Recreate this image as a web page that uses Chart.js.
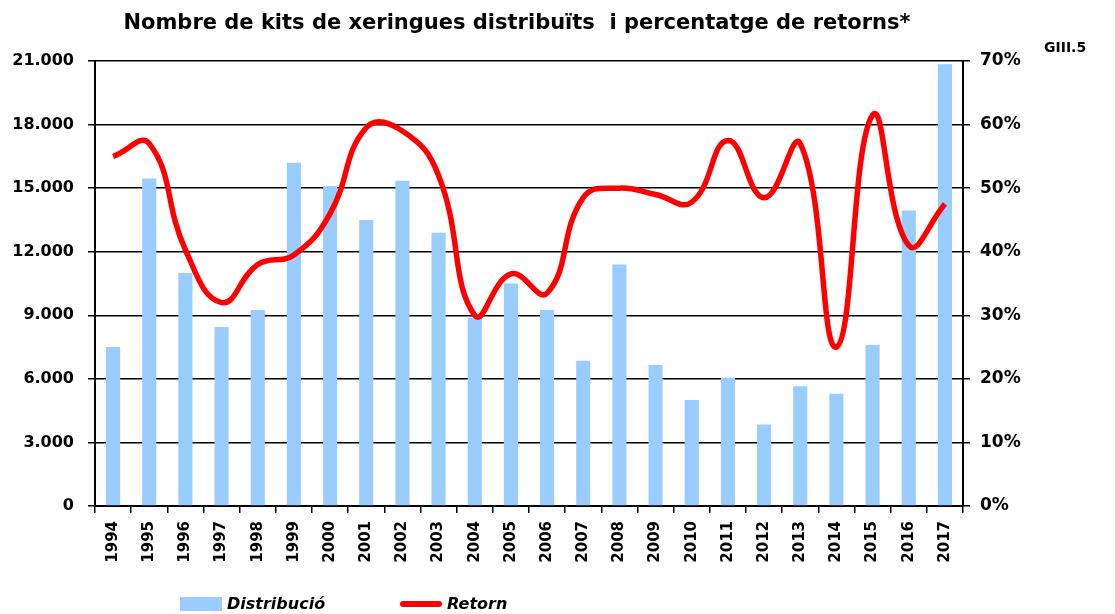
<!DOCTYPE html>
<html>
<head>
<meta charset="utf-8">
<script src="https://cdn.jsdelivr.net/npm/chart.js@4/dist/chart.umd.min.js"></script>
<style>
  body { margin: 0; background: #fff; font-family: "DejaVu Sans", sans-serif; }
  #wrap { position: relative; width: 1115px; height: 614px; overflow: hidden; }
  #title { position: absolute; left: 0; width: 1034px; top: 10px; text-align: center; font-weight: bold; font-size: 21px; color: #000; white-space: pre; }
  #code { position: absolute; left: 1044px; top: 39px; font-weight: bold; font-size: 14px; }
  #legend { position: absolute; left: 180px; top: 594px; font-weight: bold; font-style: italic; font-size: 16px; }
  #legend span.item { position: absolute; white-space: nowrap; }
  #legend i.sw { position: absolute; display: block; }
</style>
</head>
<body>
<div id="wrap">
  <canvas id="chart" width="1115" height="614"></canvas>
  <div id="title">Nombre de kits de xeringues distribuïts  i percentatge de retorns*</div>
  <div id="code">GIII.5</div>
  <div id="legend"></div>
</div>
<script>
// data
var years = ["1994","1995","1996","1997","1998","1999","2000","2001","2002","2003","2004","2005",
             "2006","2007","2008","2009","2010","2011","2012","2013","2014","2015","2016","2017"];
var distribucio = [7500, 15450, 11000, 8450, 9250, 16200, 15100, 13500, 15350, 12900, 8900, 10500,
                   9250, 6850, 11400, 6650, 5000, 6050, 3850, 5650, 5300, 7600, 13950, 20850];
var retorn = [55, 57, 40.3, 32, 38, 39.5, 46, 59.5, 59, 52, 30, 36.5,
              33.5, 48.5, 50, 49, 47.8, 57.5, 48.5, 57, 25, 61.5, 41, 47.5];
var leftTicks = [0, 3000, 6000, 9000, 12000, 15000, 18000, 21000];

var barColor = '#99CCFF';
var lineColor = '#FF0000';
var fam = "'DejaVu Sans', sans-serif";
var tickFont = { family: fam, size: 16, weight: 'bold' };

function miles(v) {
  return String(v).replace(/\B(?=(\d{3})+(?!\d))/g, '.');
}

var ctx = document.getElementById('chart').getContext('2d');
var chart = new Chart(ctx, {
  type: 'bar',
  data: {
    labels: years,
    datasets: [{
      type: 'line',
      label: 'Retorn',
      data: retorn,
      yAxisID: 'y2',
      borderColor: lineColor,
      borderWidth: 5.5,
      tension: 0.45,
      pointRadius: 0,
      fill: false,
      order: 0
    }, {
      type: 'bar',
      label: 'Distribució',
      data: distribucio,
      yAxisID: 'y',
      backgroundColor: barColor,
      borderWidth: 0,
      barPercentage: 0.39,
      categoryPercentage: 1,
      order: 1
    }]
  },
  options: {
    responsive: false,
    animation: false,
    layout: { padding: { left: 0, right: 0, top: 61, bottom: 0 } },
    plugins: {
      legend: { display: false },
      title: { display: false },
      tooltip: { enabled: false }
    },
    scales: {
      x: {
        grid: { offset: true, drawOnChartArea: false, drawTicks: true, tickLength: 7, color: '#000', lineWidth: 1.5 },
        border: { color: '#000', width: 2 },
        ticks: { color: '#000', font: { family: fam, size: 15, weight: 'bold' }, minRotation: 90, maxRotation: 90, padding: 8 },
        afterFit: function (s) { s.height = 108; }
      },
      y: {
        position: 'left',
        min: 0, max: 21000,
        afterBuildTicks: function (s) { s.ticks = leftTicks.map(function (v) { return { value: v }; }); },
        grid: { color: '#000', lineWidth: 1.5, tickLength: 7 },
        border: { color: '#000', width: 2 },
        ticks: { color: '#000', font: tickFont, padding: 14, callback: function (v) { return miles(v); } },
        afterFit: function (s) { s.width = 95; }
      },
      y2: {
        position: 'right',
        min: 0, max: 70,
        ticks: { stepSize: 10, color: '#000', font: { family: fam, size: 17, weight: 'bold' }, padding: 10, callback: function (v) { return v + '%'; } },
        grid: { drawOnChartArea: false, color: '#000', lineWidth: 1.5, tickLength: 7 },
        border: { color: '#000', width: 2 },
        afterFit: function (s) { s.width = 152; }
      }
    }
  }
});

// html legend from the dataset colours
var legend = document.getElementById('legend');
var spots = [0, 220];
[chart.data.datasets[1], chart.data.datasets[0]].forEach(function (ds, i) {
  var item = document.createElement('span');
  item.className = 'item';
  item.style.left = spots[i] + 'px';
  var sw = document.createElement('i');
  sw.className = 'sw';
  if (ds.type === 'line') {
    sw.style.cssText = 'left:0;top:7px;width:42px;height:6px;border-radius:3px;background:' + ds.borderColor;
  } else {
    sw.style.cssText = 'left:0;top:3px;width:42px;height:14px;background:' + ds.backgroundColor;
  }
  item.appendChild(sw);
  var txt = document.createElement('span');
  txt.style.cssText = 'position:absolute;left:47px;top:0;';
  txt.textContent = ds.label;
  item.appendChild(txt);
  legend.appendChild(item);
});
</script>
</body>
</html>
